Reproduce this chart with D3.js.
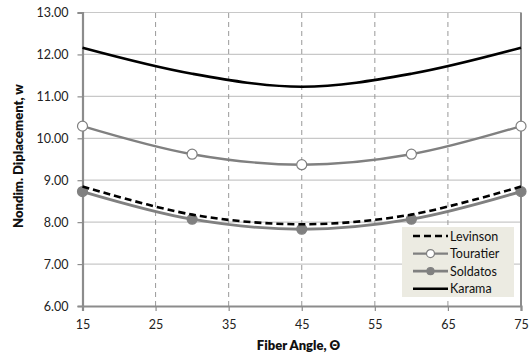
<!DOCTYPE html>
<html>
<head>
<meta charset="utf-8">
<script src="https://cdn.jsdelivr.net/npm/d3@7"></script>
<style>
  body { margin: 0; background: #fff; }
  text { font-family: Lato, "Open Sans", sans-serif; }
</style>
</head>
<body>
<div id="chart"></div>
<script>
// fiber angles and nondimensional displacements
const angles = [15, 30, 45, 60, 75];
const levinson = [8.85, 8.18, 7.95, 8.18, 8.85];
const touratier = [10.29, 9.62, 9.37, 9.62, 10.29];
const soldatos = [8.73, 8.07, 7.83, 8.07, 8.73];
const karama = [12.16, 11.54, 11.23, 11.54, 12.16];
const xTicks = [15, 25, 35, 45, 55, 65, 75];
const yTicks = [6, 7, 8, 9, 10, 11, 12, 13];

const width = 532, height = 355;
const margin = { left: 82.5, right: 11, top: 12.5, bottom: 49 };

const svg = d3.select('#chart')
  .append('svg')
  .attr('width', width)
  .attr('height', height);

const x = d3.scaleLinear().domain([15, 75]).range([margin.left, width - margin.right]);
const y = d3.scaleLinear().domain([6, 13]).range([height - margin.bottom, margin.top]);

//Gridlines
svg.append('g')
  .selectAll('line')
  .data(yTicks.slice(1))
  .enter()
  .append('line')
  .attr('x1', x(15)).attr('x2', x(75))
  .attr('y1', d => y(d)).attr('y2', d => y(d))
  .attr('stroke', '#c8c8c8')
  .attr('stroke-width', 1.2);

svg.append('g')
  .selectAll('line')
  .data(xTicks.slice(1, -1))
  .enter()
  .append('line')
  .attr('x1', d => x(d)).attr('x2', d => x(d))
  .attr('y1', y(6)).attr('y2', y(13))
  .attr('stroke', '#999')
  .attr('stroke-width', 1)
  .attr('stroke-dasharray', '5,4');

//Axes
const xAxis = svg.append('g')
  .attr('transform', 'translate(0,' + y(6) + ')')
  .call(d3.axisBottom(x).tickValues(xTicks).tickSize(5).tickPadding(9));
const yAxis = svg.append('g')
  .attr('transform', 'translate(' + x(15) + ',0)')
  .call(d3.axisLeft(y).tickValues(yTicks).tickSize(5).tickPadding(9).tickFormat(d3.format('.2f')));

[xAxis, yAxis].forEach(a => {
  a.select('.domain').attr('stroke', '#8c8c8c').attr('stroke-width', 2.2);
  a.selectAll('.tick line').attr('stroke', '#8c8c8c').attr('stroke-width', 1.2);
  a.selectAll('.tick text').attr('fill', '#222').style('font-size', '12.5px');
});

// right border
svg.append('line')
  .attr('x1', x(75)).attr('x2', x(75))
  .attr('y1', y(6)).attr('y2', y(13))
  .attr('stroke', '#8c8c8c')
  .attr('stroke-width', 2);

//Series
const series = [
  { name: 'Levinson', values: levinson, color: '#000', width: 2.6, dash: '7,4', marker: null },
  { name: 'Touratier', values: touratier, color: '#808080', width: 2.4, dash: null, marker: 'open' },
  { name: 'Soldatos', values: soldatos, color: '#808080', width: 2.8, dash: null, marker: 'filled' },
  { name: 'Karama', values: karama, color: '#000', width: 2.6, dash: null, marker: null }
];

const line = d3.line()
  .x(d => x(d[0]))
  .y(d => y(d[1]))
  .curve(d3.curveCatmullRom.alpha(0.5));

// draw order: Soldatos under Levinson
const drawOrder = [series[2], series[1], series[3], series[0]];
drawOrder.forEach(s => {
  const pts = angles.map((a, i) => [a, s.values[i]]);
  svg.append('path')
    .attr('d', line(pts))
    .attr('fill', 'none')
    .attr('stroke', s.color)
    .attr('stroke-width', s.width)
    .attr('stroke-dasharray', s.dash);
  if (s.marker) {
    svg.append('g')
      .selectAll('circle')
      .data(pts)
      .enter()
      .append('circle')
      .attr('cx', d => x(d[0]))
      .attr('cy', d => y(d[1]))
      .attr('r', 5)
      .attr('fill', s.marker === 'open' ? '#fff' : '#808080')
      .attr('stroke', '#808080')
      .attr('stroke-width', 1.2);
  }
});

//Axis titles
svg.append('text')
  .attr('x', 298.5)
  .attr('y', 350)
  .attr('text-anchor', 'middle')
  .style('font-size', '13px')
  .style('font-weight', 800)
  .attr('fill', '#111')
  .text('Fiber Angle, Θ');

svg.append('text')
  .attr('transform', 'translate(23,156) rotate(-90)')
  .attr('text-anchor', 'middle')
  .style('font-size', '13px')
  .style('font-weight', 800)
  .attr('fill', '#111')
  .text('Nondim. Diplacement, w');

//Legend
const lg = svg.append('g').attr('transform', 'translate(402,227)');
lg.append('rect')
  .attr('width', 112)
  .attr('height', 70)
  .attr('fill', '#ecebe2');

const legend = lg.selectAll('.legends')
  .data(series)
  .enter()
  .append('g')
  .classed('legends', true)
  .attr('transform', (d, i) => 'translate(0,' + (9 + i * 17.6) + ')');

legend.append('line')
  .attr('x1', 11).attr('x2', 46)
  .attr('stroke', d => d.color)
  .attr('stroke-width', d => d.width)
  .attr('stroke-dasharray', d => d.dash);

legend.filter(d => d.marker)
  .append('circle')
  .attr('cx', 28.5)
  .attr('r', d => d.marker === 'open' ? 4 : 3.5)
  .attr('fill', d => d.marker === 'open' ? '#fff' : '#808080')
  .attr('stroke', '#808080')
  .attr('stroke-width', 1.2);

legend.append('text')
  .attr('x', 48)
  .attr('y', 4.5)
  .style('font-size', '12.5px')
  .attr('fill', '#111')
  .text(d => d.name);
</script>
</body>
</html>
